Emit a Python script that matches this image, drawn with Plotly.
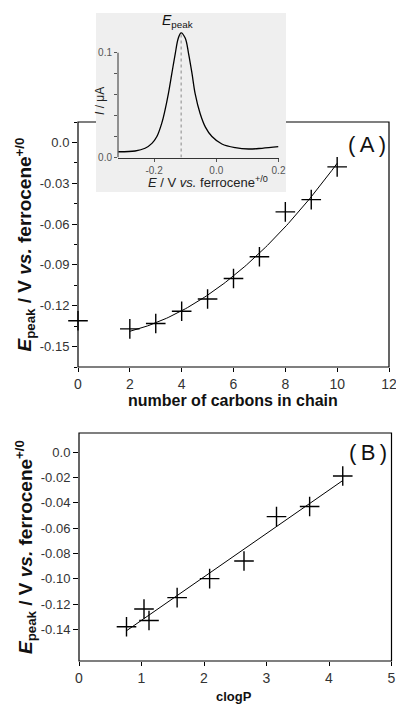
import numpy as np
import plotly.graph_objects as go

# ---------------- data ----------------
# Panel A: number of carbons in chain vs Epeak
carbons = [0, 2, 3, 4, 5, 6, 7, 8, 9, 10]
epeak_a = [-0.131, -0.137, -0.133, -0.124, -0.115, -0.100, -0.084, -0.051, -0.042, -0.018]

# Panel B: clogP vs Epeak
clogp = [0.76, 1.04, 1.12, 1.57, 2.09, 2.64, 3.16, 3.69, 4.22]
epeak_b = [-0.138, -0.124, -0.133, -0.115, -0.100, -0.086, -0.051, -0.043, -0.019]

# Inset: voltammogram (E / V vs ferrocene, I / uA)
inset_e = [-0.315, -0.261, -0.229, -0.207, -0.191, -0.175, -0.165, -0.154, -0.143, -0.132,
           -0.122, -0.113, -0.100, -0.089, -0.078, -0.068, -0.052, -0.035, -0.014, 0.018,
           0.061, 0.104, 0.147, 0.200]
inset_i = [0.0055, 0.0062, 0.0088, 0.0135, 0.020, 0.033, 0.045, 0.061, 0.080, 0.099,
           0.114, 0.119, 0.114, 0.099, 0.080, 0.061, 0.042, 0.029, 0.020, 0.0129,
           0.0094, 0.0081, 0.0088, 0.0103]
inset_epeak = -0.113

a_yticks = [0.0, -0.03, -0.06, -0.09, -0.12, -0.15]
a_yticktext = ["0.0", "-0.03", "-0.06", "-0.09", "-0.12", "-0.15"]
b_yticks = [0.0, -0.02, -0.04, -0.06, -0.08, -0.10, -0.12, -0.14]
b_yticktext = ["0.0", "-0.02", "-0.04", "-0.06", "-0.08", "-0.10", "-0.12", "-0.14"]

# ---------------- fits ----------------
xa = np.array([c for c in carbons if c >= 2], dtype=float)
ya = np.array([v for c, v in zip(carbons, epeak_a) if c >= 2])
pa = np.polyfit(xa, ya, 2)
xa_fit = np.linspace(xa.min(), xa.max(), 120)
ya_fit = np.polyval(pa, xa_fit)

xb = np.array(clogp)
yb = np.array(epeak_b)
pb = np.polyfit(xb, yb, 1)
xb_fit = np.array([xb.min(), xb.max()])
yb_fit = np.polyval(pb, xb_fit)

W, H = 396, 704
def px(x):
    return x / W
def py(y):
    return 1 - y / H

FONT = "Arial, Liberation Sans, sans-serif"

# panel geometry (pixels)
A_L, A_R, A_T, A_B = 78, 389, 122, 367
B_L, B_R, B_T, B_B = 79, 391.5, 433, 661
BOX_L, BOX_R, BOX_T, BOX_B = 96, 286, 13, 192
IN_L, IN_R, IN_T, IN_B = 118, 278.5, 28, 157.5

fig = go.Figure()

marker = dict(symbol="cross-thin", size=14, color="black", line=dict(width=1.4, color="black"))

# Panel A
fig.add_trace(go.Scatter(x=xa_fit, y=ya_fit, mode="lines", line=dict(color="black", width=1),
                         xaxis="x", yaxis="y", showlegend=False, hoverinfo="skip"))
fig.add_trace(go.Scatter(x=carbons, y=epeak_a, mode="markers", marker=marker, cliponaxis=False,
                         xaxis="x", yaxis="y", showlegend=False))
# Panel B
fig.add_trace(go.Scatter(x=xb_fit, y=yb_fit, mode="lines", line=dict(color="black", width=1),
                         xaxis="x2", yaxis="y2", showlegend=False, hoverinfo="skip"))
fig.add_trace(go.Scatter(x=clogp, y=epeak_b, mode="markers", marker=marker, cliponaxis=False,
                         xaxis="x2", yaxis="y2", showlegend=False))
# inset
fig.add_trace(go.Scatter(x=[inset_epeak, inset_epeak], y=[0, max(inset_i)], mode="lines",
                         line=dict(color="#888", width=1, dash="dot"),
                         xaxis="x3", yaxis="y3", showlegend=False))
fig.add_trace(go.Scatter(x=inset_e, y=inset_i, mode="lines",
                         line=dict(color="black", width=1.3, shape="spline", smoothing=1.0),
                         xaxis="x3", yaxis="y3", showlegend=False))

axbase = dict(showline=False, showgrid=False, zeroline=False, ticks="outside", ticklen=5,
              tickcolor="black", tickwidth=1, automargin=False, ticklabeloverflow="allow")
xbase = dict(axbase, ticklen=4)

fig.update_layout(
    width=W, height=H,
    margin=dict(l=0, r=0, t=0, b=0, pad=0),
    paper_bgcolor="white", plot_bgcolor="rgba(0,0,0,0)",
    font=dict(family=FONT, color="#222"),
    xaxis=dict(domain=[px(A_L), px(A_R)], range=[0, 12], dtick=2, anchor="y",
               tickfont=dict(size=14, color="#333"), **xbase),
    yaxis=dict(domain=[py(A_B), py(A_T)], range=[-0.165, 0.015], anchor="x",
               tickmode="array", tickvals=a_yticks, ticktext=a_yticktext,
               tickfont=dict(size=13, color="#333"),
               minor=dict(dtick=0.015, tick0=0, ticks="outside", ticklen=3, tickcolor="black"),
               **axbase),
    xaxis2=dict(domain=[px(B_L), px(B_R)], range=[0, 5], dtick=1, anchor="y2",
                tickfont=dict(size=14, color="#333"), **xbase),
    yaxis2=dict(domain=[py(B_B), py(B_T)], range=[-0.165, 0.015], anchor="x2",
                tickmode="array", tickvals=b_yticks, ticktext=b_yticktext,
                tickfont=dict(size=13, color="#333"), **axbase),
    xaxis3=dict(domain=[px(IN_L), px(IN_R)], range=[-0.316, 0.2], anchor="y3",
                showline=True, linecolor="#333", linewidth=1, showgrid=False, zeroline=False,
                ticks="outside", ticklen=3, tickcolor="#555", automargin=False,
                ticklabeloverflow="allow",
                tickmode="array", tickvals=[-0.2, 0.0, 0.2], ticktext=["-0.2", "0.0", "0.2"],
                tickfont=dict(size=10, color="#555")),
    yaxis3=dict(domain=[py(IN_B), py(IN_T)], range=[0, 0.1236], anchor="x3",
                showline=False, showgrid=False, zeroline=False, automargin=False,
                ticks="outside", ticklen=3, tickcolor="#555",
                tickmode="array", tickvals=[0, 0.02, 0.04, 0.06, 0.08, 0.1],
                ticktext=["0.0", "", "", "", "", "0.1"],
                tickfont=dict(size=10, color="#555")),
    shapes=[
        # frames of the two panels (drawn below data)
        dict(type="rect", xref="paper", yref="paper", x0=px(A_L), x1=px(A_R), y0=py(A_B), y1=py(A_T),
             layer="below", line=dict(color="black", width=1.2), fillcolor="rgba(0,0,0,0)"),
        dict(type="rect", xref="paper", yref="paper", x0=px(B_L), x1=px(B_R), y0=py(B_B), y1=py(B_T),
             layer="below", line=dict(color="black", width=1.2), fillcolor="rgba(0,0,0,0)"),
        # grey inset background, covering panel A's top frame
        dict(type="rect", xref="paper", yref="paper", x0=px(BOX_L), x1=px(BOX_R), y0=py(BOX_B), y1=py(BOX_T),
             layer="below", line=dict(width=0), fillcolor="#efefef"),
        # inset y axis line (0 to 0.1)
        dict(type="line", xref="paper", yref="y3", x0=px(IN_L), x1=px(IN_L), y0=0, y1=0.1,
             line=dict(color="#333", width=1)),
    ],
)

ann = []
ytitle = "<b><i>E</i><sub>peak</sub> / V <i>vs.</i> ferrocene<sup>+/0</sup></b>"
ann.append(dict(text=ytitle, x=px(25), y=py((A_T + A_B) / 2), xref="paper", yref="paper",
                textangle=-90, showarrow=False, font=dict(size=19, color="#111"),
                xanchor="center", yanchor="middle"))
ann.append(dict(text=ytitle, x=px(25), y=py((B_T + B_B) / 2), xref="paper", yref="paper",
                textangle=-90, showarrow=False, font=dict(size=19, color="#111"),
                xanchor="center", yanchor="middle"))
ann.append(dict(text="<b>number of carbons in chain</b>", x=px(233), y=py(400), xref="paper",
                yref="paper", showarrow=False, font=dict(size=16, color="#111"),
                xanchor="center", yanchor="middle"))
ann.append(dict(text="<b>clogP</b>", x=px(234), y=py(696), xref="paper", yref="paper",
                showarrow=False, font=dict(size=13, color="#111"),
                xanchor="center", yanchor="middle"))
ann.append(dict(text="(\u2009A\u2009)", x=px(388), y=py(144), xref="paper", yref="paper",
                showarrow=False, font=dict(size=22, color="#111"),
                xanchor="right", yanchor="middle"))
ann.append(dict(text="(\u2009B\u2009)", x=px(389), y=py(452), xref="paper", yref="paper",
                showarrow=False, font=dict(size=22, color="#111"),
                xanchor="right", yanchor="middle"))
# inset labels
ann.append(dict(text="<i>E</i> / V <i>vs.</i> ferrocene<sup>+/0</sup>", x=px(208), y=py(182),
                xref="paper", yref="paper", showarrow=False, font=dict(size=13, color="#222"),
                xanchor="center", yanchor="middle"))
ann.append(dict(text="<i>I</i> / μA", x=px(100), y=py(101), xref="paper", yref="paper",
                textangle=-90, showarrow=False, font=dict(size=12, color="#222"),
                xanchor="center", yanchor="middle"))
ann.append(dict(text="<i>E</i><sub>peak</sub>", x=px(177), y=py(21), xref="paper", yref="paper",
                showarrow=False, font=dict(size=14, color="#111"),
                xanchor="center", yanchor="middle"))
fig.update_layout(annotations=ann)

fig.write_html("out.html", config={"displayModeBar": False},
               post_script="document.body.style.margin='0px';")
